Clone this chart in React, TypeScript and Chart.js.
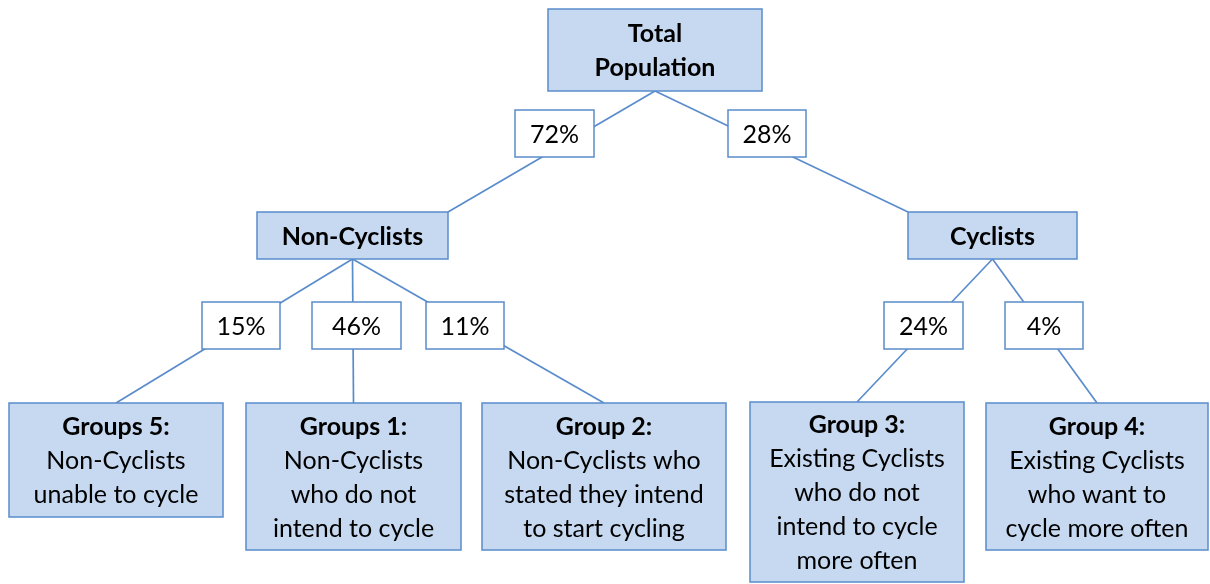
import React, { useEffect, useRef } from "react";
import { Chart, registerables } from "chart.js";

Chart.register(...registerables);

// ---- data ----
const nodeTitles: string[][] = [
  ["Total", "Population"],
  ["Non-Cyclists"],
  ["Cyclists"],
  ["Groups 5:"],
  ["Groups 1:"],
  ["Group 2:"],
  ["Group 3:"],
  ["Group 4:"],
];
const nodeDescriptions: string[][] = [
  [],
  [],
  [],
  ["Non-Cyclists", "unable to cycle"],
  ["Non-Cyclists", "who do not", "intend to cycle"],
  ["Non-Cyclists who", "stated they intend", "to start cycling"],
  ["Existing Cyclists", "who do not", "intend to cycle", "more often"],
  ["Existing Cyclists", "who want to", "cycle more often"],
];
const parentIndex: number[] = [-1, 0, 0, 1, 1, 1, 2, 2];
const shares: (number | null)[] = [null, 72, 28, 15, 46, 11, 24, 4];

// ---- layout (data units of the hidden scales) ----
const nodeBoxes: number[][] = [
  [548, 9, 762, 91],
  [257, 212, 448, 259],
  [908, 212, 1077, 259],
  [9, 403, 223, 517],
  [246, 403, 461, 550],
  [482, 403, 726, 550],
  [750, 402, 964, 582],
  [986, 403, 1208, 550],
];
// where the connector meets the child box: "right" top corner, "left" top corner, or "center"
const childAnchor: string[] = ["", "right", "left", "center", "center", "center", "center", "center"];
const shareBoxes: (number[] | null)[] = [
  null,
  [515, 110, 594, 157],
  [728, 110, 806, 157],
  [202, 302, 280, 349],
  [312, 302, 401, 349],
  [426, 302, 504, 349],
  [884, 302, 963, 349],
  [1005, 302, 1083, 349],
];

const FILL = "#c6d9f0";
const STROKE = "#5a8ccc";
const LINE = "#5a8ccc";
const FONT = "Lato, 'Open Sans', sans-serif";
const FONT_SIZE = 25;
const LINE_H = 34;

function anchorPoint(i: number) {
  const b = nodeBoxes[i];
  const mode = childAnchor[i];
  const x = mode === "right" ? b[2] : mode === "left" ? b[0] : (b[0] + b[2]) / 2;
  return { x, y: b[1] };
}

export default function App() {
  const ref = useRef<HTMLCanvasElement | null>(null);

  useEffect(() => {
    document.body.style.margin = "0";
    const canvas = ref.current;
    if (!canvas) return;

    const datasets = parentIndex
      .map((p, i) => {
        if (p < 0) return null;
        const pb = nodeBoxes[p];
        const start = { x: (pb[0] + pb[2]) / 2, y: pb[3] };
        return {
          type: "line" as const,
          data: [start, anchorPoint(i)],
          borderColor: LINE,
          borderWidth: 1.7,
          pointRadius: 0,
          showLine: true,
          fill: false,
        };
      })
      .filter(Boolean) as any[];

    const boxPlugin = {
      id: "treeBoxes",
      afterDatasetsDraw(chart: any) {
        const ctx = chart.ctx as CanvasRenderingContext2D;
        const xs = chart.scales.x;
        const ys = chart.scales.y;
        const rect = (b: number[]) => {
          const x0 = xs.getPixelForValue(b[0]);
          const x1 = xs.getPixelForValue(b[2]);
          const y0 = ys.getPixelForValue(b[1]);
          const y1 = ys.getPixelForValue(b[3]);
          return { x0, y0, w: x1 - x0, h: y1 - y0 };
        };
        ctx.save();
        ctx.textAlign = "center";
        ctx.textBaseline = "middle";
        ctx.fillStyle = "#000";
        // share labels
        shareBoxes.forEach((b, i) => {
          if (!b) return;
          const r = rect(b);
          ctx.fillStyle = "#ffffff";
          ctx.fillRect(r.x0, r.y0, r.w, r.h);
          ctx.strokeStyle = STROKE;
          ctx.lineWidth = 1.5;
          ctx.strokeRect(r.x0, r.y0, r.w, r.h);
          ctx.fillStyle = "#000";
          ctx.font = `${FONT_SIZE}px ${FONT}`;
          ctx.fillText(`${shares[i]}%`, r.x0 + r.w / 2, r.y0 + r.h / 2 + 1);
        });
        // nodes
        nodeBoxes.forEach((b, i) => {
          const r = rect(b);
          ctx.fillStyle = FILL;
          ctx.fillRect(r.x0, r.y0, r.w, r.h);
          ctx.strokeStyle = STROKE;
          ctx.lineWidth = 1.5;
          ctx.strokeRect(r.x0, r.y0, r.w, r.h);
          const lines = [
            ...nodeTitles[i].map((t) => ({ t, bold: true })),
            ...nodeDescriptions[i].map((t) => ({ t, bold: false })),
          ];
          const cx = r.x0 + r.w / 2;
          const cy = r.y0 + r.h / 2;
          const startY = cy - ((lines.length - 1) * LINE_H) / 2;
          ctx.fillStyle = "#000";
          lines.forEach((ln, k) => {
            ctx.font = `${ln.bold ? "bold " : ""}${FONT_SIZE}px ${FONT}`;
            ctx.fillText(ln.t, cx, startY + k * LINE_H + 1);
          });
        });
        ctx.restore();
      },
    };

    const chart = new Chart(canvas, {
      type: "scatter",
      data: { datasets },
      options: {
        animation: false,
        responsive: false,
        maintainAspectRatio: false,
        layout: { padding: 0 },
        plugins: { legend: { display: false }, tooltip: { enabled: false } },
        events: [],
        scales: {
          x: { type: "linear", min: 0, max: 1210, display: false },
          y: { type: "linear", min: 0, max: 584, reverse: true, display: false },
        },
      },
      plugins: [boxPlugin],
    });
    return () => chart.destroy();
  }, []);

  return (
    <div style={{ width: 1210, height: 584, background: "#fff" }}>
      <canvas ref={ref} width={1210} height={584} />
    </div>
  );
}
